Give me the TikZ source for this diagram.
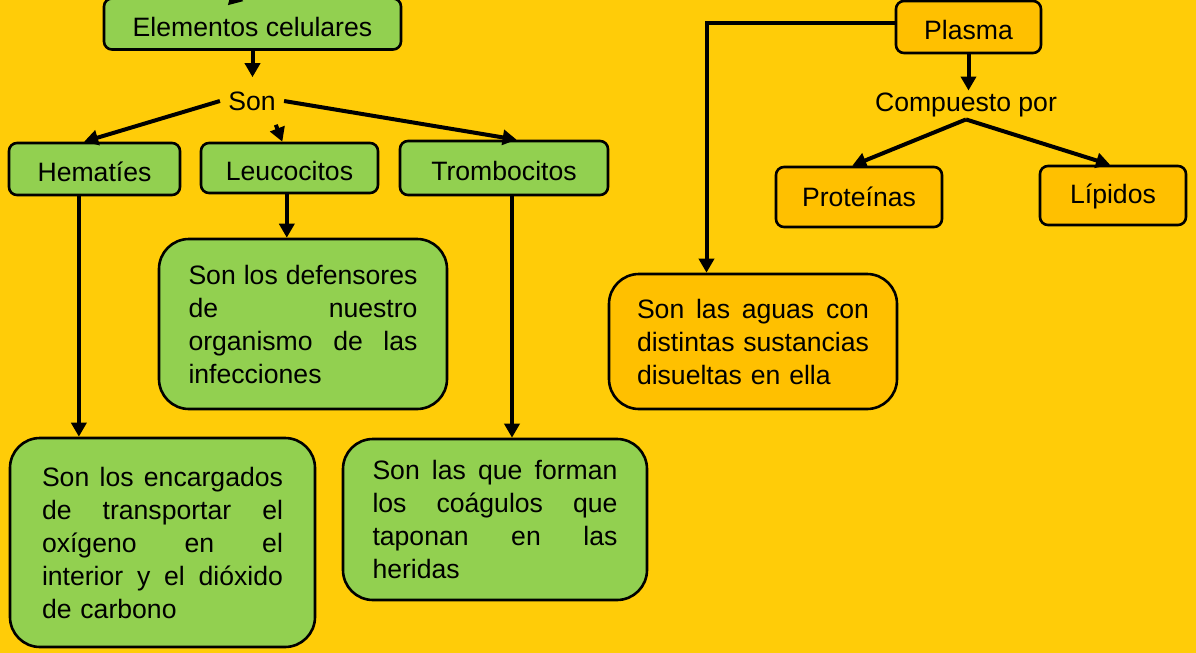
\documentclass[tikz,border=0pt]{standalone}
\usepackage{fontspec}
\setmainfont{Liberation Sans}
\usetikzlibrary{arrows.meta,calc}
\definecolor{bgc}{HTML}{FFCC08}
\definecolor{gbox}{HTML}{92D050}
\definecolor{obox}{HTML}{FFC000}
\newcommand{\jl}[2]{\leavevmode\hbox to #1{#2}}
\newcommand{\gf}{\hfill}
\begin{document}
\begin{tikzpicture}[x=0.5pt,y=-0.5pt,
  txt/.style={font=\fontsize{13.3}{16.5}\selectfont},
  box/.style={txt, draw=black, line width=1.3pt, rounded corners=4pt, inner sep=0pt},
  lowtext/.style={text height=12.5pt, text depth=0pt},
  bigbox/.style={box, rounded corners=15pt, align=left},
  greenfill/.style={fill=gbox},
  orangefill/.style={fill=obox},
  arr/.style={line width=2pt, -{Triangle[length=7pt,width=7.5pt]}},
  lbl/.style={txt, inner sep=1pt}]
\fill[bgc] (0,0) rectangle (1196,653);
\useasboundingbox (0,0) rectangle (1196,653);

% left branch
\node[box, lowtext, greenfill, minimum width=148.5pt, minimum height=25.5pt] (elem) at (252.5,24) {Elementos celulares};
\node[lbl, inner xsep=4pt, inner ysep=7pt] (son) at (252,101) {Son};
\node[box, lowtext, greenfill, minimum width=85.5pt, minimum height=26pt] (hema) at (94.5,169) {Hematíes};
\node[box, lowtext, greenfill, minimum width=88.5pt, minimum height=25pt] (leuco) at (289.5,168) {Leucocitos};
\node[box, lowtext, greenfill, minimum width=104pt, minimum height=27pt] (tromb) at (504,168) {Trombocitos};
\node[bigbox, greenfill, text width=114.5pt, minimum width=144pt, minimum height=85pt] (def) at (303,324)
  {\jl{114.5pt}{Son\gf los\gf defensores}\\ \jl{114.5pt}{de\gf nuestro}\\ \jl{114.5pt}{organismo\gf de\gf las}\\ infecciones};
\node[bigbox, greenfill, text width=120.5pt, minimum width=152.5pt, minimum height=104.5pt] (enc) at (162.5,542.5)
  {\jl{120.5pt}{Son\gf los\gf encargados}\\ \jl{120.5pt}{de\gf transportar\gf el}\\ \jl{120.5pt}{oxígeno\gf en\gf el}\\ \jl{120.5pt}{interior\gf y\gf el\gf dióxido}\\ de carbono};
\node[bigbox, greenfill, text width=122.5pt, minimum width=152pt, minimum height=80.5pt] (form) at (495,519.5)
  {\jl{122.5pt}{Son\gf las\gf que\gf forman}\\ \jl{122.5pt}{los\gf coágulos\gf que}\\ \jl{122.5pt}{taponan\gf en\gf las}\\ heridas};

% right branch
\node[box, lowtext, orangefill, minimum width=72.5pt, minimum height=26pt] (plasma) at (968.5,27) {Plasma};
\node[lbl] (comp) at (966,105) {Compuesto por};
\node[box, orangefill, minimum width=83pt, minimum height=30pt] (prot) at (859,197) {Proteínas};
\node[box, orangefill, text height=11pt, minimum width=73pt, minimum height=29.5pt] (lip) at (1113,195.5) {Lípidos};
\node[bigbox, orangefill, text width=116pt, minimum width=144pt, minimum height=67.5pt] (agua) at (753,341.5)
  {\jl{116pt}{Son\gf las\gf aguas\gf con}\\ \jl{116pt}{distintas\gf sustancias}\\ disueltas en ella};

% anchor points
\coordinate (inA) at (150,-25);
\coordinate (elemIn) at ($(elem.north west)!0.47!(elem.north east)+(0,4)$);
\coordinate (hemaTop) at ($(hema.north west)!0.44!(hema.north east)$);
\coordinate (hemaBot) at ($(hema.south west)!0.41!(hema.south east)$);
\coordinate (leucoTop) at ($(leuco.north west)!0.46!(leuco.north east)$);
\coordinate (leucoBot) at ($(leuco.south west)!0.485!(leuco.south east)$);
\coordinate (trombTop) at ($(tromb.north west)!0.56!(tromb.north east)$);
\coordinate (trombBot) at ($(tromb.south west)!0.538!(tromb.south east)$);
\coordinate (plasmaL) at ($(plasma.north west)!0.42!(plasma.south west)$);
\coordinate (aguaTop) at ($(agua.north west)!0.34!(agua.north east)$);
\coordinate (protTop) at ($(prot.north west)!0.46!(prot.north east)$);
\coordinate (lipTop) at ($(lip.north west)!0.48!(lip.north east)$);

% connectors
\draw[arr] (inA) -- (elemIn);
\draw[arr] (elem.south) -- (elem.south |- son.north);
\draw[arr] (son.west) -- (hemaTop);
\draw[arr] (son.-45) -- (leucoTop);
\draw[arr] (son.east) -- (trombTop);
\draw[arr] (hemaBot) -- (hemaBot |- enc.north);
\draw[arr] (leucoBot) -- (leucoBot |- def.north);
\draw[arr] (trombBot) -- (trombBot |- form.north);
\draw[arr] (plasmaL) -| (aguaTop);
\draw[arr] (plasma.south) -- (plasma.south |- comp.north);
\draw[arr] (comp.south) -- (protTop);
\draw[arr] (comp.south) -- (lipTop);
\end{tikzpicture}
\end{document}
